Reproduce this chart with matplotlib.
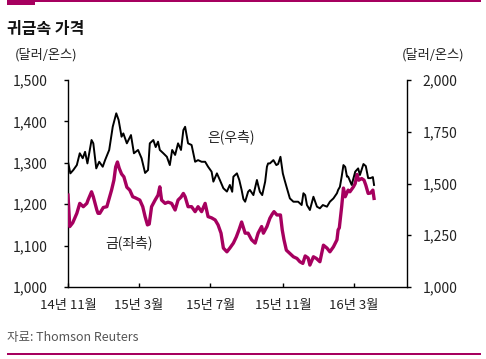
import matplotlib
matplotlib.use('Agg')
import matplotlib.pyplot as plt
import pandas as pd

plt.rcParams['font.family'] = ['Noto Sans CJK KR', 'DejaVu Sans']

# 금 (좌측, 달러/온스)
gold_dates = [
    '2014-11-01', '2014-11-04', '2014-11-09', '2014-11-16', '2014-11-21', '2014-11-27',
    '2014-12-03', '2014-12-05', '2014-12-11', '2014-12-14', '2014-12-20', '2014-12-22',
    '2014-12-25', '2014-12-31', '2015-01-06', '2015-01-10', '2015-01-14', '2015-01-18',
    '2015-01-21', '2015-01-24', '2015-01-27', '2015-01-31', '2015-02-04', '2015-02-09',
    '2015-02-14', '2015-02-19', '2015-02-24', '2015-03-03', '2015-03-08', '2015-03-12',
    '2015-03-16', '2015-03-19', '2015-03-23', '2015-03-29', '2015-04-03', '2015-04-06',
    '2015-04-09', '2015-04-15', '2015-04-20', '2015-04-26', '2015-05-02', '2015-05-07',
    '2015-05-12', '2015-05-16', '2015-05-19', '2015-05-24', '2015-05-30', '2015-06-05',
    '2015-06-10', '2015-06-16', '2015-06-22', '2015-06-27', '2015-07-03', '2015-07-09',
    '2015-07-14', '2015-07-19', '2015-07-23', '2015-07-29', '2015-08-03', '2015-08-09',
    '2015-08-14', '2015-08-19', '2015-08-23', '2015-08-29', '2015-09-03', '2015-09-09',
    '2015-09-15', '2015-09-20', '2015-09-26', '2015-09-29', '2015-10-05', '2015-10-10',
    '2015-10-14', '2015-10-17', '2015-10-22', '2015-10-28', '2015-10-31', '2015-11-03',
    '2015-11-07', '2015-11-13', '2015-11-19', '2015-11-25', '2015-11-30', '2015-12-05',
    '2015-12-09', '2015-12-14', '2015-12-17', '2015-12-23', '2015-12-28', '2016-01-03',
    '2016-01-09', '2016-01-15', '2016-01-20', '2016-01-26', '2016-02-01', '2016-02-03',
    '2016-02-05', '2016-02-09', '2016-02-12', '2016-02-15', '2016-02-20', '2016-02-23',
    '2016-02-29', '2016-03-03', '2016-03-06', '2016-03-09', '2016-03-14', '2016-03-18',
    '2016-03-21', '2016-03-25', '2016-03-29', '2016-04-02', '2016-04-04',
]
gold = [
    1222, 1146, 1155, 1178, 1202, 1194,
    1202, 1210, 1230, 1218, 1186, 1178,
    1178, 1192, 1194, 1214, 1234, 1258,
    1290, 1302, 1287, 1273, 1266, 1241,
    1234, 1218, 1215, 1210, 1194, 1170,
    1150, 1152, 1194, 1210, 1222, 1242,
    1210, 1202, 1205, 1202, 1186, 1210,
    1217, 1226, 1218, 1194, 1194, 1182,
    1194, 1182, 1202, 1170, 1167, 1162,
    1150, 1130, 1094, 1085, 1094, 1106,
    1121, 1140, 1157, 1130, 1130, 1114,
    1106, 1130, 1146, 1130, 1146, 1166,
    1176, 1182, 1174, 1174, 1138, 1114,
    1089, 1081, 1073, 1069, 1061, 1057,
    1075, 1070, 1053, 1073, 1069, 1061,
    1101, 1094, 1085, 1097, 1114, 1138,
    1143, 1194, 1239, 1218, 1234, 1230,
    1242, 1250, 1272, 1258, 1262, 1258,
    1246, 1226, 1227, 1234, 1214,
]

# 은 (우측, 달러/온스)
silver_dates = [
    '2014-11-01', '2014-11-05', '2014-11-10', '2014-11-16', '2014-11-21', '2014-11-26',
    '2014-11-30', '2014-12-04', '2014-12-11', '2014-12-14', '2014-12-19', '2014-12-24',
    '2014-12-30', '2015-01-03', '2015-01-10', '2015-01-16', '2015-01-22', '2015-01-26',
    '2015-01-31', '2015-02-03', '2015-02-09', '2015-02-16', '2015-02-21', '2015-02-28',
    '2015-03-06', '2015-03-12', '2015-03-17', '2015-03-20', '2015-03-26', '2015-03-30',
    '2015-04-03', '2015-04-06', '2015-04-12', '2015-04-18', '2015-04-23', '2015-04-27',
    '2015-05-02', '2015-05-07', '2015-05-12', '2015-05-16', '2015-05-19', '2015-05-22',
    '2015-05-24', '2015-05-30', '2015-06-05', '2015-06-10', '2015-06-16', '2015-06-22',
    '2015-06-27', '2015-07-03', '2015-07-06', '2015-07-12', '2015-07-17', '2015-07-23',
    '2015-07-29', '2015-08-03', '2015-08-07', '2015-08-09', '2015-08-15', '2015-08-19',
    '2015-08-23', '2015-08-26', '2015-08-29', '2015-09-03', '2015-09-06', '2015-09-12',
    '2015-09-18', '2015-09-20', '2015-09-23', '2015-09-27', '2015-10-02', '2015-10-05',
    '2015-10-07', '2015-10-10', '2015-10-16', '2015-10-21', '2015-10-24', '2015-10-28',
    '2015-11-01', '2015-11-04', '2015-11-08', '2015-11-13', '2015-11-19', '2015-11-25',
    '2015-11-27', '2015-12-03', '2015-12-06', '2015-12-09', '2015-12-12', '2015-12-17',
    '2015-12-23', '2015-12-29', '2016-01-03', '2016-01-08', '2016-01-15', '2016-01-20',
    '2016-01-26', '2016-02-01', '2016-02-03', '2016-02-06', '2016-02-09', '2016-02-12',
    '2016-02-15', '2016-02-18', '2016-02-20', '2016-02-26', '2016-03-03', '2016-03-08',
    '2016-03-11', '2016-03-17', '2016-03-21', '2016-03-25', '2016-03-29', '2016-04-02',
    '2016-04-04',
]
silver = [
    1605, 1549, 1565, 1589, 1646, 1622,
    1653, 1597, 1710, 1694, 1573, 1605,
    1581, 1613, 1662, 1774, 1839, 1807,
    1726, 1742, 1694, 1734, 1646, 1662,
    1622, 1551, 1565, 1694, 1710, 1676,
    1702, 1662, 1646, 1629, 1589, 1662,
    1638, 1694, 1662, 1758, 1774, 1726,
    1694, 1686, 1605, 1613, 1605, 1605,
    1581, 1557, 1509, 1549, 1517, 1477,
    1461, 1493, 1460, 1533, 1549, 1517,
    1469, 1425, 1412, 1460, 1469, 1444,
    1517, 1493, 1460, 1444, 1509, 1581,
    1597, 1597, 1613, 1589, 1594, 1629,
    1549, 1517, 1477, 1428, 1412, 1412,
    1412, 1396, 1453, 1444, 1396, 1372,
    1436, 1388, 1380, 1396, 1388, 1412,
    1428, 1453, 1469, 1484, 1533, 1589,
    1580, 1533, 1533, 1493, 1557, 1573,
    1541, 1594, 1584, 1526, 1526, 1531,
    1493,
]

x_ticks = ['2014-11-01', '2015-03-01', '2015-07-01', '2015-11-01', '2016-03-01']
x_labels = ['14년 11월', '15년 3월', '15년 7월', '15년 11월', '16년 3월']
left_ticks = [1000, 1100, 1200, 1300, 1400, 1500]
right_ticks = [1000, 1250, 1500, 1750, 2000]

MAGENTA = '#A6005F'
TXT = '#222222'

W, H = 486, 359
fig = plt.figure(figsize=(W / 100, H / 100), dpi=100)
fig.patch.set_facecolor('white')

# 상단/하단 장식선
fig.add_artist(plt.Rectangle((7 / W, 1 - 2 / H), 474 / W, 2 / H, transform=fig.transFigure,
                             color=MAGENTA, lw=0))
fig.add_artist(plt.Rectangle((7 / W, 1 - 5 / H), 28 / W, 5 / H, transform=fig.transFigure,
                             color=MAGENTA, lw=0))
fig.add_artist(plt.Rectangle((7 / W, 1 - 355 / H), 474 / W, 2 / H, transform=fig.transFigure,
                             color=MAGENTA, lw=0))

ax = fig.add_axes([68 / W, 1 - 287 / H, 339 / W, 207 / H])
ax2 = ax.twinx()

gd = pd.to_datetime(gold_dates)
sd = pd.to_datetime(silver_dates)
ax.plot(gd, gold, color=MAGENTA, lw=2.4, zorder=3)
ax2.plot(sd, silver, color='black', lw=1.4, zorder=3)

ax.set_xlim(pd.Timestamp('2014-11-01'), pd.Timestamp('2016-05-30'))
ax.set_ylim(1000, 1500)
ax2.set_ylim(1000, 2000)

ax.set_xticks(pd.to_datetime(x_ticks))
ax.set_xticklabels(x_labels, fontsize=9.5, color=TXT)
ax.set_yticks(left_ticks)
ax.set_yticklabels([f'{v:,}' for v in left_ticks], fontsize=10, color=TXT)
ax2.set_yticks(right_ticks)
ax2.set_yticklabels([f'{v:,}' for v in right_ticks], fontsize=10, color=TXT)

ax.tick_params(axis='x', direction='in', length=3, width=1, pad=9)
ax.tick_params(axis='y', direction='out', length=3, width=1, pad=12)
ax2.tick_params(axis='y', direction='out', length=3, width=1, pad=8)

for s in ['top', 'right']:
    ax.spines[s].set_visible(False)
for s in ['top', 'left', 'bottom']:
    ax2.spines[s].set_visible(False)
for a, s in [(ax, 'left'), (ax, 'bottom'), (ax2, 'right')]:
    a.spines[s].set_linewidth(1)
    a.spines[s].set_color('black')

ax.text(0.41, 0.725, '은(우측)', transform=ax.transAxes, fontsize=10, color=TXT,
        ha='left', va='center')
ax.text(0.109, 0.2126, '금(좌측)', transform=ax.transAxes, fontsize=10, color=TXT,
        ha='left', va='center')

fig.text(7 / W, 1 - 29 / H, '귀금속 가격', fontsize=11.5, fontweight='bold', color='#111111',
         ha='left', va='center')
fig.text(15 / W, 1 - 55 / H, '(달러/온스)', fontsize=9.5, color=TXT, ha='left', va='center')
fig.text(402 / W, 1 - 55 / H, '(달러/온스)', fontsize=9.5, color=TXT, ha='left', va='center')
fig.text(7 / W, 1 - 337 / H, '자료: Thomson Reuters', fontsize=9, color='#555555',
         ha='left', va='center')

fig.savefig('out.png', dpi=100, facecolor='white')
